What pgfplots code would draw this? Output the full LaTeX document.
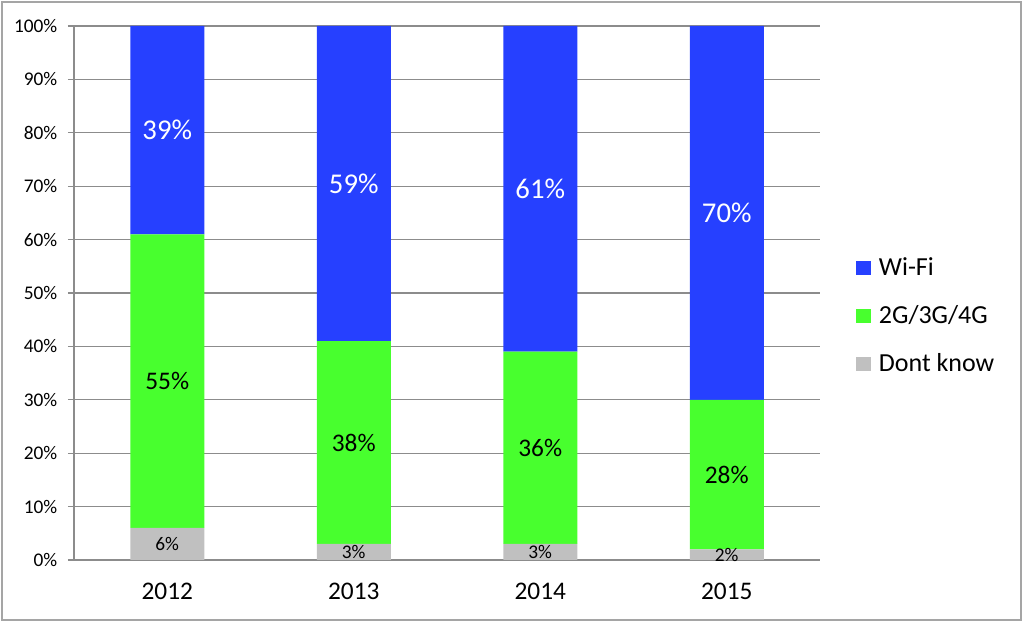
\documentclass[border=0pt]{standalone}
\usepackage{fontspec}
\setmainfont{Carlito}
\usepackage{pgfplots}
\pgfplotsset{compat=1.18}
\definecolor{wifiblue}{RGB}{38,64,255}
\definecolor{mobgreen}{RGB}{72,255,46}
\definecolor{dkgray}{RGB}{192,192,192}
\definecolor{axgray}{RGB}{140,140,140}
\begin{document}
\begin{tikzpicture}[x=1pt,y=1pt]
\useasboundingbox (0,0) rectangle (768,467.25);
\draw[color={rgb,255:red,165;green,165;blue,165}, line width=1.5pt] (1.5,2.25) rectangle (765.75,465.75);
\begin{axis}[
  at={(55.5pt,47.25pt)}, anchor=south west,
  scale only axis, width=559.5pt, height=400.5pt,
  ybar stacked, bar width=55.5pt,
  xmin=-0.5, xmax=3.5, ymin=0, ymax=100,
  axis lines=left, axis line style={axgray, line width=0.8pt, -},
  xtick={0,1,2,3}, xticklabels={2012,2013,2014,2015},
  major x tick style={draw=none},
  extra x ticks={-0.5,0.5,1.5,2.5,3.5}, extra x tick labels={},
  extra x tick style={major tick length=5.5pt, tick align=outside, grid=none, tick style={axgray, line width=0.8pt}},
  ytick={0,10,...,100},
  yticklabel={\pgfmathprintnumber{\tick}\%},
  /pgf/number format/assume math mode=true,
  tick align=outside, major tick length=4.5pt,
  tick style={axgray, line width=0.8pt},
  ymajorgrids, grid style={axgray, line width=0.8pt},
  yticklabel style={font=\fontsize{14.5}{16}\selectfont, xshift=-4.5pt},
  xticklabel style={font=\fontsize{19}{22}\selectfont, yshift=-9pt},
  reverse legend,
  legend style={at={(1,0.457)}, anchor=west, draw=none, fill=none, xshift=24pt,
    font=\fontsize{19.5}{23}\selectfont, row sep=17pt},
  legend cell align=left,
  legend image code/.code={\fill[#1] (0pt,-5.5pt) rectangle (11pt,5.5pt); \path (15pt,0pt);},
  visualization depends on={rawy \as \rawy},
  nodes near coords={\pgfmathprintnumber{\rawy}\%},
  every node near coord/.append style={anchor=center},
]
\addplot[fill=dkgray, draw=none, nodes near coords style={font=\fontsize{14.5}{16}\selectfont, text=black}]
  coordinates {(0,6) (1,3) (2,3) (3,2)};
\addplot[fill=mobgreen, draw=none, nodes near coords style={font=\fontsize{19}{22}\selectfont, text=black}]
  coordinates {(0,55) (1,38) (2,36) (3,28)};
\addplot[fill=wifiblue, draw=none, nodes near coords style={font=\fontsize{21.5}{24}\selectfont, text=white}]
  coordinates {(0,39) (1,59) (2,61) (3,70)};
\legend{Dont know, 2G/3G/4G, Wi-Fi}
\end{axis}
\end{tikzpicture}
\end{document}
